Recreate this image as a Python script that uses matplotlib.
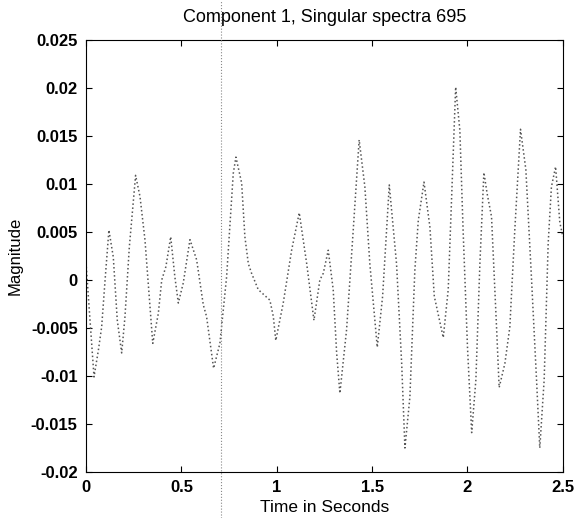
import numpy as np
import matplotlib.pyplot as plt
from matplotlib.lines import Line2D
from matplotlib.ticker import FuncFormatter

plt.rcParams['font.family'] = ['Liberation Sans', 'DejaVu Sans']

# component trace
time_s = [0.0, 0.02, 0.042, 0.065, 0.082, 0.1, 0.12, 0.143, 0.164, 0.187,
          0.204, 0.227, 0.26, 0.283, 0.309, 0.35, 0.379, 0.397, 0.419, 0.444,
          0.466, 0.484, 0.51, 0.545, 0.58, 0.615, 0.632, 0.669, 0.702, 0.737,
          0.772, 0.786, 0.816, 0.833, 0.851, 0.868, 0.903, 0.964, 0.982, 0.995,
          1.034, 1.078, 1.118, 1.157, 1.195, 1.226, 1.244, 1.27, 1.296, 1.314,
          1.331, 1.366, 1.401, 1.432, 1.462, 1.488, 1.527, 1.555, 1.59, 1.628,
          1.655, 1.672, 1.698, 1.724, 1.742, 1.772, 1.803, 1.826, 1.873, 1.899,
          1.917, 1.938, 1.96, 1.977, 2.0, 2.022, 2.044, 2.065, 2.086, 2.103,
          2.126, 2.153, 2.166, 2.196, 2.222, 2.248, 2.278, 2.306, 2.336, 2.362,
          2.379, 2.402, 2.423, 2.44, 2.462, 2.484, 2.5]
magnitude = [0.0018, -0.0039, -0.0101, -0.0073, -0.0049, 0.0, 0.0052, 0.0024, -0.0042, -0.0076,
             -0.0039, 0.0034, 0.0109, 0.0087, 0.0042, -0.0066, -0.0035, 0.0, 0.0014, 0.0045,
             0.0003, -0.0024, -0.0003, 0.0042, 0.0021, -0.0026, -0.0038, -0.0092, -0.0066, 0.0003,
             0.0111, 0.0128, 0.0101, 0.0045, 0.0017, 0.0007, -0.0010, -0.0021, -0.0038, -0.0063,
             -0.0024, 0.0031, 0.0070, 0.0017, -0.0042, 0.0, 0.0007, 0.0031, -0.0010, -0.0076,
             -0.0118, -0.0052, 0.0052, 0.0146, 0.0097, 0.0017, -0.0070, -0.0017, 0.0099, 0.0017,
             -0.0087, -0.0175, -0.0122, 0.0010, 0.0062, 0.0102, 0.0055, -0.0017, -0.0060, -0.0010,
             0.0087, 0.0201, 0.0156, 0.0052, -0.0070, -0.0159, -0.0104, 0.0017, 0.0112, 0.0090,
             0.0066, -0.0052, -0.0112, -0.0087, -0.0049, 0.0052, 0.0157, 0.0115, 0.0, -0.0104,
             -0.0175, -0.0104, 0.0038, 0.0097, 0.0118, 0.0060, 0.0045]

x_ticks = [0, 0.5, 1, 1.5, 2, 2.5]
y_ticks = [-0.02, -0.015, -0.01, -0.005, 0, 0.005, 0.01, 0.015, 0.02, 0.025]

fig = plt.figure(figsize=(5.78, 5.18), dpi=100)
ax = fig.add_axes([0.1488, 0.0888, 0.825, 0.834])

ax.plot(time_s, magnitude, color='#555555', linestyle=':', linewidth=1.1)

ax.set_xlim(0, 2.5)
ax.set_ylim(-0.02, 0.025)
ax.set_xticks(x_ticks)
ax.set_yticks(y_ticks)
ax.xaxis.set_major_formatter(FuncFormatter(lambda v, p: '%g' % v))
ax.yaxis.set_major_formatter(FuncFormatter(lambda v, p: '%g' % round(v, 4)))
ax.tick_params(direction='in', top=True, right=True, length=4, labelsize=12)
ax.tick_params(axis='x', pad=6)
ax.tick_params(axis='y', pad=6)
for lab in ax.get_xticklabels() + ax.get_yticklabels():
    lab.set_fontweight('bold')

ax.set_title('Component 1, Singular spectra 695', fontsize=13, pad=13)
ax.set_xlabel('Time in Seconds', fontsize=12.5, labelpad=3)
ax.set_ylabel('Magnitude', fontsize=12, labelpad=6)

# scanner fold line running down the page
fig.add_artist(Line2D([221 / 578, 221 / 578], [0, 1], transform=fig.transFigure,
                      color='#888888', linestyle=':', linewidth=0.8))

fig.savefig('out.png', dpi=100)
